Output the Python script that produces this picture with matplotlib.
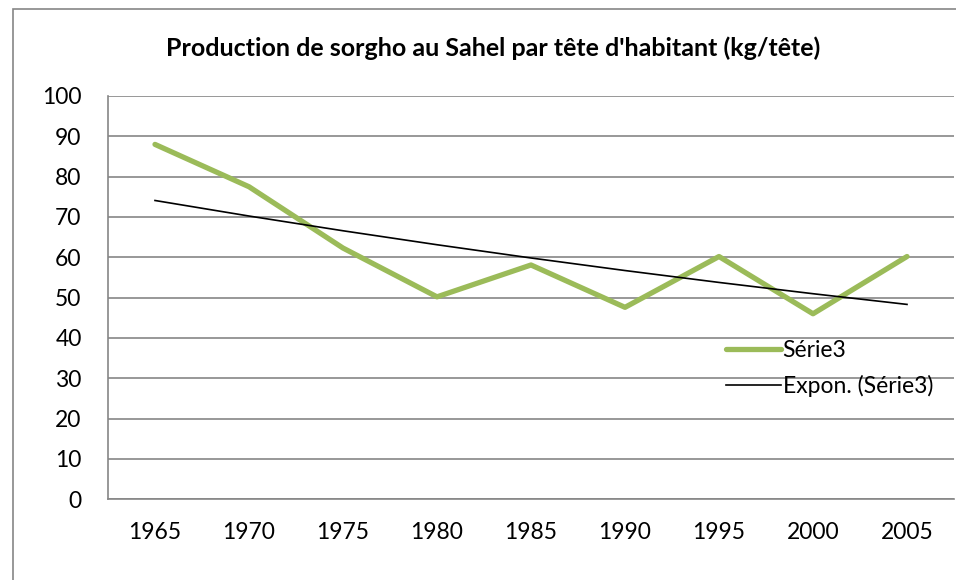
import numpy as np
import matplotlib
matplotlib.use('Agg')
import matplotlib.pyplot as plt
from matplotlib.patches import Rectangle

years = ['1965', '1970', '1975', '1980', '1985', '1990', '1995', '2000', '2005']
production = [88, 77.5, 62.3, 50.2, 58.1, 47.6, 60.2, 46, 60.2]

W, H = 956, 580
plt.rcParams['font.family'] = ['Lato', 'DejaVu Sans']

fig = plt.figure(figsize=(W / 100, H / 100), dpi=100)

# outer chart frame (left and top visible)
fig.patches.append(Rectangle((13 / W, -0.05), 1.2, (H - 9) / H + 0.05,
                             transform=fig.transFigure, fill=False,
                             edgecolor='#868686', linewidth=1.2))

ax = fig.add_axes([108 / W, (H - 499.3) / H, 846 / W, (499.3 - 96) / H])

x = np.arange(len(years))
y = np.array(production)

# exponential trendline (least squares fit on log values, like Excel)
slope, intercept = np.polyfit(x, np.log(y), 1)
trend = np.exp(intercept + slope * x)

ax.plot(x, y, color='#9BBB59', linewidth=3.8, solid_capstyle='round',
        solid_joinstyle='round', label='Série3', zorder=3)
ax.plot(x, trend, color='black', linewidth=1.2, label='Expon. (Série3)', zorder=4)

ax.set_xlim(-0.5, len(years) - 0.5)
ax.set_ylim(0, 100)
ax.set_yticks(range(0, 101, 10))
ax.set_xticks(x)
ax.set_xticklabels(years)

ax.yaxis.grid(True, color='#868686', linewidth=1.2)
ax.set_axisbelow(True)
for s in ['top', 'right']:
    ax.spines[s].set_visible(False)
ax.spines['left'].set_color('#868686')
ax.spines['bottom'].set_color('#868686')
ax.spines['left'].set_linewidth(1.2)
ax.spines['bottom'].set_linewidth(1.2)
ax.tick_params(axis='both', length=0, labelsize=16.5)
ax.tick_params(axis='y', pad=19)
ax.tick_params(axis='x', pad=16)

fig.text(493 / W, 1 - 48 / H, "Production de sorgho au Sahel par tête d'habitant (kg/tête)",
         ha='center', va='center', fontsize=18, fontweight='bold')

ax.legend(loc='upper left', bbox_to_anchor=(715 / W, 1 - 329 / H),
          bbox_transform=fig.transFigure, frameon=False, fontsize=16.5,
          handlelength=2.4, handletextpad=0.05, labelspacing=0.6, borderpad=0)

fig.savefig('out.png', dpi=100)
